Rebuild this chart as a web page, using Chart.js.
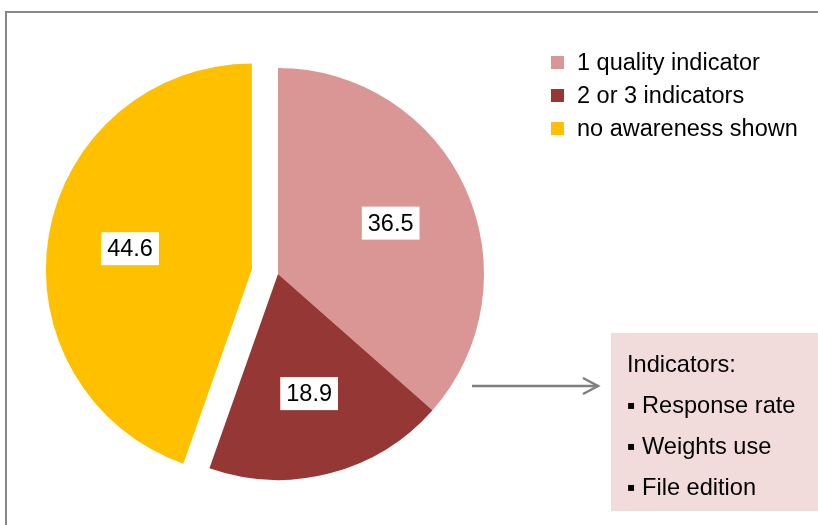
<!DOCTYPE html>
<html>
<head>
<meta charset="utf-8">
<script src="https://cdn.jsdelivr.net/npm/chart.js@4"></script>
<style>
  html, body { margin: 0; padding: 0; background: #fff; overflow: hidden; }
  body { width: 818px; height: 525px; position: relative; font-family: "Liberation Sans", Arial, sans-serif; color: #000; }
  .frame { position: absolute; left: 5px; top: 11px; width: 900px; height: 600px; border: 2px solid #878787; }
  #pie { position: absolute; left: 0; top: 0; }
  .legend { position: absolute; left: 551px; top: 49px; font-size: 23.5px; }
  .legend .row { height: 33px; line-height: 26px; white-space: nowrap; }
  .legend .sw { display: inline-block; width: 13px; height: 13px; margin-right: 13px; vertical-align: 1px; }
  .note { position: absolute; left: 611px; top: 333px; width: 220px; height: 178px; background: #F2DCDB; font-size: 23.6px; }
  .note div { position: absolute; left: 16px; white-space: nowrap; line-height: 26px; }
  .note .b { font-family: "DejaVu Sans", sans-serif; font-size: 12px; display: inline-block; width: 15px; vertical-align: 4px; }
  svg { position: absolute; left: 0; top: 0; }
</style>
</head>
<body>
<div class="frame"></div>
<canvas id="pie" width="818" height="525"></canvas>
<svg width="818" height="525">
  <line x1="472" y1="386" x2="598" y2="386" stroke="#7f7f7f" stroke-width="2.5"/>
  <polyline points="583,378 598,386 583,394" fill="none" stroke="#7f7f7f" stroke-width="2.5"/>
</svg>
<div class="legend" id="legend"></div>
<div class="note">
  <div style="top:18px">Indicators:</div>
  <div style="top:59px"><span class="b">▪</span>Response rate</div>
  <div style="top:100px"><span class="b">▪</span>Weights use</div>
  <div style="top:141px"><span class="b">▪</span>File edition</div>
</div>
<script>
// données du graphique
const categories = ['1 quality indicator', '2 or 3 indicators', 'no awareness shown'];
const shares = [36.5, 18.9, 44.6];
const sliceColors = ['#D99694', '#953735', '#FFC000'];
const explode = [0, 0, 26.5]; // décalage en px, seule la part jaune est détachée

// légende en HTML
const legend = document.getElementById('legend');
categories.forEach((name, i) => {
    const row = document.createElement('div');
    row.className = 'row';
    row.innerHTML = '<span class="sw" style="background:' + sliceColors[i] + '"></span>' + name;
    legend.appendChild(row);
});

// l'offset natif agrandit aussi le rayon : on décale la part nous-mêmes
const explodePlugin = {
    id: 'explodePlugin',
    beforeDatasetDraw(chart, args) {
        args.meta.data.forEach((arc, i) => {
            if (arc.$exploded) return;
            arc.$exploded = true;
            const baseDraw = arc.draw;
            arc.draw = function (ctx, area) {
                const mid = (this.startAngle + this.endAngle) / 2;
                ctx.save();
                ctx.translate(Math.cos(mid) * explode[i], Math.sin(mid) * explode[i]);
                baseDraw.call(this, ctx, area);
                ctx.restore();
            };
        });
    }
};

// étiquettes blanches sur chaque part
const sliceLabels = {
    id: 'sliceLabels',
    afterDatasetsDraw(chart) {
        const ctx = chart.ctx;
        const meta = chart.getDatasetMeta(0);
        ctx.save();
        ctx.font = '23.5px "Liberation Sans", Arial, sans-serif';
        ctx.textAlign = 'center';
        ctx.textBaseline = 'middle';
        meta.data.forEach((arc, i) => {
            const p = arc.getProps(['x', 'y', 'startAngle', 'endAngle', 'outerRadius'], true);
            const mid = (p.startAngle + p.endAngle) / 2;
            const r = p.outerRadius * 0.6 + explode[i];
            const cx = p.x + Math.cos(mid) * r;
            const cy = p.y + Math.sin(mid) * r;
            const txt = shares[i].toFixed(1);
            const w = ctx.measureText(txt).width + 12;
            ctx.fillStyle = '#fff';
            ctx.fillRect(cx - w / 2, cy - 16.5, w, 33);
            ctx.fillStyle = '#000';
            ctx.fillText(txt, cx, cy + 1);
        });
        ctx.restore();
    }
};

new Chart(document.getElementById('pie'), {
    type: 'pie',
    data: {
        labels: categories,
        datasets: [{
            data: shares,
            backgroundColor: sliceColors,
            borderWidth: 0,
            hoverOffset: 0
        }]
    },
    options: {
        responsive: false,
        animation: false,
        events: [],
        radius: 206,
        layout: { padding: { left: 0, right: 262, top: 23, bottom: 0 } },
        plugins: { legend: { display: false }, tooltip: { enabled: false } }
    },
    plugins: [explodePlugin, sliceLabels]
});
</script>
</body>
</html>
